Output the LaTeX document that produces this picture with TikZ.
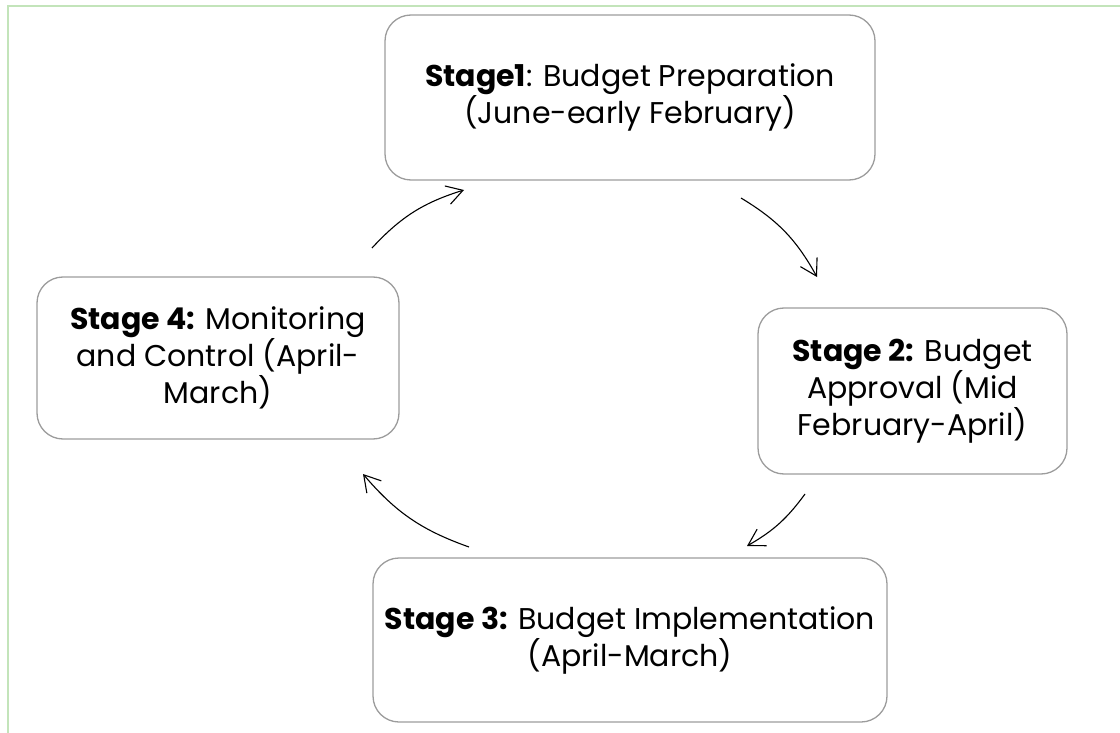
\documentclass[tikz,border=0pt]{standalone}
\usepackage{fontspec}
\setmainfont{Poppins}
\usetikzlibrary{arrows.meta}
\definecolor{framegreen}{HTML}{C3E4BA}
\definecolor{boxgray}{HTML}{9C9C9C}
\begin{document}
\begin{tikzpicture}[x=1pt,y=-1pt,
  stagebox/.style={draw=boxgray, line width=1.3pt, rounded corners=26pt, align=center,
    font=\fontsize{30pt}{37pt}\selectfont, text=black, inner sep=0pt},
  cyc/.style={draw=black, line width=1.1pt, -{Straight Barb[length=16pt,width=19pt,line width=1.1pt]}}]
\useasboundingbox (0,0) rectangle (1120,733);
\draw[framegreen, line width=2.4pt] (8,733) -- (8,6) -- (1120,6);
\node[stagebox, minimum width=490pt, minimum height=165pt] (s1) at (630,97.5)
  {\textbf{Stage1}: Budget Preparation\\(June-early February)};
\node[stagebox, minimum width=309pt, minimum height=166pt] (s2) at (912.5,391)
  {\textbf{Stage 2:} Budget\\Approval (Mid\\February-April)};
\node[stagebox, minimum width=514pt, minimum height=164pt] (s3) at (630,640)
  {\textbf{Stage 3:} Budget Implementation\\(April-March)};
\node[stagebox, minimum width=362pt, minimum height=162pt] (s4) at (218,358)
  {\textbf{Stage 4:} Monitoring\\and Control (April-\\March)};
\coordinate (a1s) at (372,248);
\coordinate (a1e) at (464,190);
\coordinate (a2s) at (741,198);
\coordinate (a2e) at (817,277);
\coordinate (a3s) at (805,494);
\coordinate (a3e) at (747,546);
\coordinate (a4s) at (469,547);
\coordinate (a4e) at (363,474);
\draw[cyc] (a1s) to[bend left=15] (a1e);
\draw[cyc] (a2s) to[bend left=15] (a2e);
\draw[cyc] (a3s) to[bend left=12] (a3e);
\draw[cyc] (a4s) to[bend left=15] (a4e);
\end{tikzpicture}
\end{document}
